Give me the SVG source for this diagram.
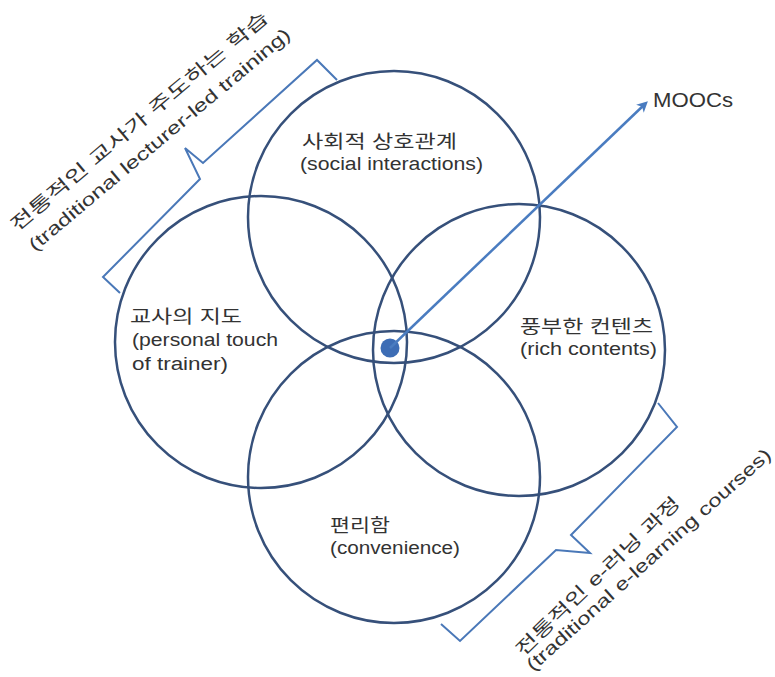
<svg xmlns="http://www.w3.org/2000/svg" width="775" height="677" viewBox="0 0 775 677">
<defs>
<style>
.c{fill:none;stroke:#36507a;stroke-width:2.5}
.b{fill:none;stroke:#4a78b8;stroke-width:2;stroke-linejoin:miter}
.t{font-family:"Liberation Sans","Noto Sans CJK KR",sans-serif;font-size:18px;fill:#333}
</style>
<marker id="ah" markerWidth="11" markerHeight="11" refX="7" refY="5.5" orient="auto" markerUnits="userSpaceOnUse" viewBox="0 0 11 11">
<path d="M0,0 L11,5.5 L0,11 L3,5.5 Z" fill="#4a7cc0"/>
</marker>
</defs>
<rect width="775" height="677" fill="#fff"/>
<g id="circle-social"><circle class="c" cx="394" cy="217" r="146"/>
<text class="t" x="302" y="148" textLength="155" lengthAdjust="spacingAndGlyphs">사회적 상호관계</text>
<text class="t" x="300" y="170" textLength="183" lengthAdjust="spacingAndGlyphs">(social interactions)</text></g>
<g id="circle-personal"><circle class="c" cx="261" cy="342" r="146"/>
<text class="t" x="130" y="323" textLength="112" lengthAdjust="spacingAndGlyphs">교사의 지도</text>
<text class="t" x="132" y="346" textLength="146" lengthAdjust="spacingAndGlyphs">(personal touch</text>
<text class="t" x="132" y="370" textLength="96" lengthAdjust="spacingAndGlyphs">of trainer)</text></g>
<g id="circle-rich"><circle class="c" cx="519" cy="350" r="146"/>
<text class="t" x="520" y="333" textLength="133" lengthAdjust="spacingAndGlyphs">풍부한 컨텐츠</text>
<text class="t" x="520" y="355" textLength="137" lengthAdjust="spacingAndGlyphs">(rich contents)</text></g>
<g id="circle-convenience"><circle class="c" cx="394" cy="477" r="146"/>
<text class="t" x="330" y="532" textLength="60" lengthAdjust="spacingAndGlyphs">편리함</text>
<text class="t" x="330" y="554" textLength="130" lengthAdjust="spacingAndGlyphs">(convenience)</text></g>
<g id="center-dot"><circle cx="390" cy="348" r="9.5" fill="#3d6db5"/></g>
<g id="moocs"><text class="t" x="653" y="107" style="font-size:20px" textLength="80" lengthAdjust="spacingAndGlyphs">MOOCs</text></g>
<g id="connectors">
<line x1="390" y1="348" x2="645" y2="104" stroke="#4a7cc0" stroke-width="2.5" marker-end="url(#ah)"/>
<path class="b" d="M120,293 L103,277 L200,179 L185,148 L203,163 L317,60 L337,80"/>
<path class="b" d="M658,403 L677,427 L571,535 L590,553 L556,550 L460,641 L441,624"/>
</g>
<g id="label-traditional">
<text class="t" transform="translate(17,232) rotate(-40)" textLength="330" lengthAdjust="spacingAndGlyphs">전통적인 교사가 주도하는 학습</text>
<text class="t" transform="translate(35,252) rotate(-40)" textLength="335" lengthAdjust="spacingAndGlyphs">(traditional lecturer-led training)</text>
</g>
<g id="label-elearning">
<text class="t" transform="translate(523,657) rotate(-44)" textLength="220" lengthAdjust="spacingAndGlyphs">전통적인 e-러닝 과정</text>
<text class="t" transform="translate(533,672) rotate(-42)" textLength="322" lengthAdjust="spacingAndGlyphs">(traditional e-learning courses)</text>
</g>
</svg>
